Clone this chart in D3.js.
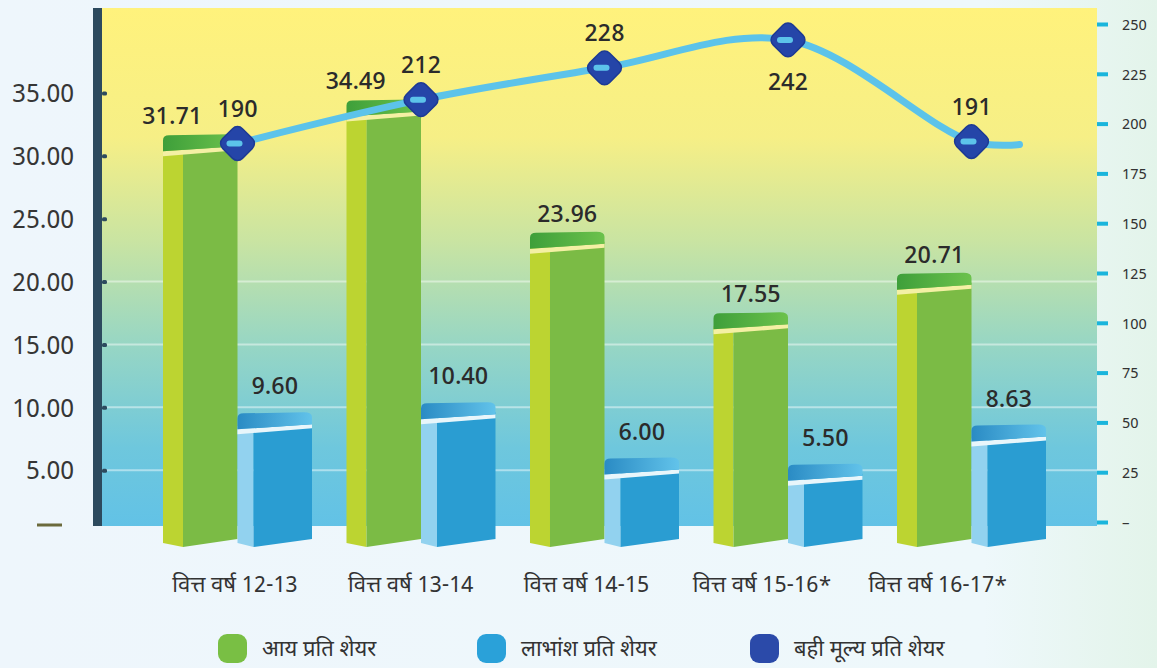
<!DOCTYPE html>
<html>
<head>
<meta charset="utf-8">
<script src="https://cdn.jsdelivr.net/npm/d3@7"></script>
<style>
  body { margin: 0; background: #eef7fc; }
  text { font-family: 'Noto Sans Devanagari', 'Noto Sans', 'Open Sans', sans-serif; }
</style>
</head>
<body>
<svg id="svg" width="1157" height="668"></svg>
<script>
// data
const years = ['वित्त वर्ष 12-13', 'वित्त वर्ष 13-14', 'वित्त वर्ष 14-15', 'वित्त वर्ष 15-16*', 'वित्त वर्ष 16-17*']
const eps = [31.71, 34.49, 23.96, 17.55, 20.71]
const dps = [9.60, 10.40, 6.00, 5.50, 8.63]
const bookValue = [190, 212, 228, 242, 191]
const leftTicks = [0, 5, 10, 15, 20, 25, 30, 35]
const rightTicks = [0, 25, 50, 75, 100, 125, 150, 175, 200, 225, 250]
const legendNames = ['आय प्रति शेयर', 'लाभांश प्रति शेयर', 'बही मूल्य प्रति शेयर']

const svg = d3.select('#svg')
const defs = svg.append('defs')

// page background
const pageGrad = defs.append('linearGradient').attr('id', 'pageGrad')
  .attr('x1', 0).attr('x2', 1).attr('y1', 0).attr('y2', 0)
pageGrad.append('stop').attr('offset', '0%').attr('stop-color', '#eef6fc')
pageGrad.append('stop').attr('offset', '85%').attr('stop-color', '#eef8fb')
pageGrad.append('stop').attr('offset', '100%').attr('stop-color', '#e3f4ea')
svg.append('rect').attr('width', 1157).attr('height', 668).attr('fill', 'url(#pageGrad)')

// plot gradient
const plotGrad = defs.append('linearGradient').attr('id', 'plotGrad')
  .attr('x1', 0).attr('x2', 0).attr('y1', 0).attr('y2', 1)
plotGrad.append('stop').attr('offset', '0%').attr('stop-color', '#fff27c')
plotGrad.append('stop').attr('offset', '25%').attr('stop-color', '#f6ef86')
plotGrad.append('stop').attr('offset', '45%').attr('stop-color', '#c9e4a2')
plotGrad.append('stop').attr('offset', '65%').attr('stop-color', '#97d6c4')
plotGrad.append('stop').attr('offset', '85%').attr('stop-color', '#6ec7dd')
plotGrad.append('stop').attr('offset', '100%').attr('stop-color', '#62c2e6')

const greenTop = defs.append('linearGradient').attr('id', 'greenTop')
greenTop.append('stop').attr('offset', '0%').attr('stop-color', '#3e9f3a')
greenTop.append('stop').attr('offset', '100%').attr('stop-color', '#6cc24c')
const blueTop = defs.append('linearGradient').attr('id', 'blueTop')
blueTop.append('stop').attr('offset', '0%').attr('stop-color', '#2a8bc4')
blueTop.append('stop').attr('offset', '100%').attr('stop-color', '#62c3ea')

const plot = { left: 100, right: 1097, top: 8, bottom: 526 }

const yL = d3.scaleLinear().domain([0, 35]).range([533, 93])
const yR = d3.scaleLinear().domain([0, 250]).range([522, 24])

const xGroup = d3.scaleBand()
  .domain(years)
  .range([163, 1046])
  .paddingInner(0.188)
  .paddingOuter(0)

const xSub = d3.scaleBand()
  .domain(['eps', 'dps'])
  .range([0, xGroup.bandwidth()])

// category labels sit a little left of the bar groups
const xLabel = d3.scalePoint().domain(years).range([235, 938])

svg.append('rect')
  .attr('x', plot.left).attr('y', plot.top)
  .attr('width', plot.right - plot.left).attr('height', plot.bottom - plot.top)
  .attr('fill', 'url(#plotGrad)')

// faint grid lines
svg.append('g').selectAll('line')
  .data(leftTicks.filter(d => d > 0 && d < 25))
  .enter().append('line')
  .attr('x1', plot.left).attr('x2', plot.right)
  .attr('y1', d => yL(d)).attr('y2', d => yL(d))
  .attr('stroke', '#ffffff').attr('stroke-opacity', 0.45).attr('stroke-width', 2)

// left axis
svg.append('rect')
  .attr('x', 93).attr('y', plot.top).attr('width', 9).attr('height', plot.bottom - plot.top)
  .attr('fill', '#2d4a5e')

const leftAxis = d3.axisLeft(yL).tickValues(leftTicks).tickSize(0).tickPadding(0)
  .tickFormat(d => d === 0 ? '' : d3.format('.2f')(d))
const gL = svg.append('g').attr('transform', 'translate(74,0)').call(leftAxis)
gL.select('.domain').remove()
gL.selectAll('text')
  .attr('font-size', 25).attr('fill', '#363636').attr('dy', '0.35em')
gL.selectAll('.tick').append('rect')
  .attr('x', 28).attr('y', -2).attr('width', 5).attr('height', 4).attr('rx', 1.5)
  .attr('fill', '#2d4a5e')
  .attr('display', d => d === 0 ? 'none' : null)
svg.append('line')
  .attr('x1', 37).attr('x2', 62).attr('y1', 525).attr('y2', 525)
  .attr('stroke', '#6b6a3c').attr('stroke-width', 3)

// right axis
const rightAxis = d3.axisRight(yR).tickValues(rightTicks).tickSize(0).tickPadding(0)
  .tickFormat(d => d === 0 ? '–' : d)
const gR = svg.append('g').attr('transform', 'translate(1122,0)').call(rightAxis)
gR.select('.domain').remove()
gR.selectAll('text').attr('font-size', 15).attr('fill', '#333').attr('dy', '0.35em')
gR.selectAll('.tick').append('rect')
  .attr('x', -25).attr('y', -2).attr('width', 11).attr('height', 4)
  .attr('fill', '#19b5dc')

// bars
function bar3d (g, x0, w, top, base, c) {
  const x1 = x0 + w
  const side = c.side
  g.append('path')
    .attr('d', `M${x0},${top + 14}L${x0 + side},${top + 12}L${x0 + side},${base + 14}L${x0},${base + 10}Z`)
    .attr('fill', c.left)
  g.append('path')
    .attr('d', `M${x0 + side},${top + 12}L${x1},${top + 10}L${x1},${base + 6}L${x0 + side},${base + 14}Z`)
    .attr('fill', c.front)
  g.append('path')
    .attr('d', `M${x0},${top + 17}L${x1},${top + 12}L${x1},${top + 16}L${x0},${top + 22}Z`)
    .attr('fill', c.stripe)
  g.append('path')
    .attr('d', `M${x0},${top + 6}Q${x0},${top + 1} ${x0 + 6},${top + 1}L${x1 - 8},${top}Q${x1},${top} ${x1},${top + 5}L${x1},${top + 12}L${x0},${top + 17}Z`)
    .attr('fill', c.top)
}

const greenStyle = { side: 20, left: '#bcd431', front: '#7bbb45', stripe: '#f4f0a4', top: 'url(#greenTop)' }
const blueStyle = { side: 16, left: '#92d2ef', front: '#2a9dd2', stripe: '#e8f6fb', top: 'url(#blueTop)' }

const bars = svg.append('g')
years.forEach((yr, i) => {
  const gx = xGroup(yr)
  bar3d(bars, gx + xSub('eps'), xSub.bandwidth(), yL(eps[i]), yL(0), greenStyle)
  bar3d(bars, gx + xSub('dps'), xSub.bandwidth(), yL(dps[i]), yL(0), blueStyle)
})

// book value points
const pts = bookValue.map((v, i) => [xGroup(years[i]) + xGroup.bandwidth() / 2, yR(v)])
const bvLabelY = (d, i) => d === d3.max(bookValue) ? pts[i][1] + 50 : pts[i][1] - 27

// bar labels (eps labels nudged left where they would meet the line labels)
svg.append('g').selectAll('text')
  .data(eps)
  .enter().append('text')
  .attr('x', (d, i) => {
    const cx = xGroup(years[i]) + xSub('eps') + xSub.bandwidth() / 2
    return Math.abs(yL(d) - 10 - bvLabelY(bookValue[i], i)) < 45 ? cx - 28 : cx
  })
  .attr('y', d => yL(d) - 10)
  .attr('text-anchor', 'middle')
  .attr('font-size', 24).attr('font-weight', 500).attr('fill', '#2b2b2b')
  .text(d => d3.format('.2f')(d))

svg.append('g').selectAll('text')
  .data(dps)
  .enter().append('text')
  .attr('x', (d, i) => xGroup(years[i]) + xSub('dps') + xSub.bandwidth() / 2)
  .attr('y', d => yL(d) - 18)
  .attr('text-anchor', 'middle')
  .attr('font-size', 24).attr('font-weight', 500).attr('fill', '#2b2b2b')
  .text(d => d3.format('.2f')(d))

// book value line
const last = pts[pts.length - 1]
const linePts = pts.concat([[last[0] + 48, last[1] + 3]])

svg.append('path')
  .attr('d', d3.line().curve(d3.curveCatmullRom)(linePts))
  .attr('fill', 'none')
  .attr('stroke', '#5cc3ea')
  .attr('stroke-width', 7)
  .attr('stroke-linecap', 'round')

const markers = svg.append('g').selectAll('g')
  .data(pts)
  .enter().append('g')
  .attr('transform', d => `translate(${d[0]},${d[1]})`)

markers.append('rect')
  .attr('x', -14).attr('y', -14).attr('width', 28).attr('height', 28).attr('rx', 7)
  .attr('transform', 'rotate(45)')
  .attr('fill', '#2545a8')
  .attr('stroke', '#1d3a94').attr('stroke-width', 1.5)
markers.append('line')
  .attr('x1', -8).attr('x2', 2).attr('y1', 0).attr('y2', 0)
  .attr('stroke', '#5cc3ea').attr('stroke-width', 6).attr('stroke-linecap', 'round')

svg.append('g').selectAll('text')
  .data(bookValue)
  .enter().append('text')
  .attr('x', (d, i) => pts[i][0])
  .attr('y', bvLabelY)
  .attr('text-anchor', 'middle')
  .attr('font-size', 24).attr('font-weight', 500).attr('fill', '#2b2b2b')
  .text(d => d)

// category labels
svg.append('g').selectAll('text')
  .data(years)
  .enter().append('text')
  .attr('x', d => xLabel(d))
  .attr('y', 592)
  .attr('text-anchor', 'middle')
  .attr('font-size', 22).attr('fill', '#333')
  .text(d => d)

// legend
const legendColors = ['#79bf44', '#2aa1d9', '#2b4aa9']
const legendX = [218, 477, 750]
const legend = svg.append('g').selectAll('g')
  .data(legendNames)
  .enter().append('g')
  .attr('transform', (d, i) => `translate(${legendX[i]},634)`)
legend.append('rect')
  .attr('width', 29).attr('height', 29).attr('rx', 9)
  .attr('fill', (d, i) => legendColors[i])
legend.append('text')
  .attr('x', 44).attr('y', 22)
  .attr('font-size', 22).attr('fill', '#333')
  .text(d => d)
</script>
</body>
</html>
